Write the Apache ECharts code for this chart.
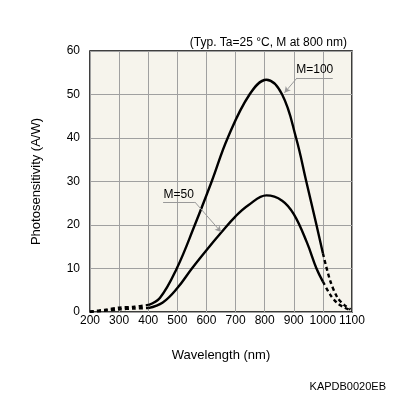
<!DOCTYPE html>
<html>
<head>
<meta charset="utf-8">
<script src="https://cdn.jsdelivr.net/npm/echarts@6/dist/echarts.min.js"></script>
<style>
  html, body { margin: 0; padding: 0; background: #fff; }
  #chart { width: 396px; height: 396px; }
</style>
</head>
<body>
<div id="chart"></div>
<script>
// wavelength (nm) / photosensitivity (A/W)
const uvWl = [200, 250, 300, 350, 400]
const m100Uv = [0.1, 0.5, 1.0, 1.2, 1.6]
const m50Uv = [0.0, 0.3, 0.6, 0.8, 0.9]

const m100Wl = [400, 440, 498, 560, 618, 673, 748, 806, 860, 908, 943, 978, 1000]
const m100Val = [1.6, 3.2, 10, 20, 30, 40, 50, 53.4, 50, 40, 30, 20, 13.5]

const m50Wl = [400, 450, 500, 550, 600, 650, 700, 745, 806, 860, 900, 945, 978, 1000]
const m50Val = [0.9, 2.2, 5.5, 10, 14.2, 18.2, 22, 24.6, 26.8, 25.6, 22.5, 16, 10, 7]

const irWl = [1000, 1025, 1050, 1075, 1095]
const m100Ir = [13.5, 7.2, 3.3, 1.5, 0.6]
const m50Ir = [7, 4, 2, 1, 0.4]

const xTicks = [200, 300, 400, 500, 600, 700, 800, 900, 1000, 1100]

const pairs = (xs, ys) => xs.map((x, i) => [x, ys[i]])

const chart = echarts.init(document.getElementById('chart'))
const font = 'Liberation Sans'

const solid = { color: '#000', width: 2.4, type: 'solid' }
const dashed = { color: '#000', width: 2.4, type: [4, 3] }

// leader line style for the curve labels
const leader = { color: '#999', width: 1, type: 'solid' }

const option = {
  animation: false,
  title: {
    text: '(Typ. Ta=25 °C, M at 800 nm)',
    right: 44,
    top: 32,
    textStyle: { fontFamily: font, fontSize: 12, fontWeight: 'normal', color: '#000' }
  },
  graphic: [{
    type: 'text',
    right: 10,
    top: 381,
    style: { text: 'KAPDB0020EB', fontFamily: font, fontSize: 11, fill: '#000' }
  }],
  grid: {
    left: 90, right: 44, top: 51, bottom: 84,
    show: true,
    backgroundColor: '#f6f4ec',
    borderColor: '#000',
    borderWidth: 1.5
  },
  xAxis: {
    type: 'value',
    min: 200, max: 1100, interval: 100,
    name: 'Wavelength (nm)',
    nameLocation: 'middle',
    nameGap: 37,
    nameTextStyle: { fontFamily: font, fontSize: 13, color: '#000' },
    axisLine: { show: false },
    axisTick: { show: false },
    axisLabel: {
      fontFamily: font, fontSize: 12, color: '#000', margin: 3,
      formatter: v => xTicks.includes(v) ? String(v) : ''
    },
    splitLine: { show: true, lineStyle: { color: '#a0a0a0', width: 1 } }
  },
  yAxis: {
    type: 'value',
    min: 0, max: 60, interval: 10,
    name: 'Photosensitivity (A/W)',
    nameLocation: 'middle',
    nameGap: 47,
    nameTextStyle: { fontFamily: font, fontSize: 13, color: '#000' },
    axisLine: { show: false },
    axisTick: { show: false },
    axisLabel: { fontFamily: font, fontSize: 12, color: '#000', margin: 10 },
    splitLine: { show: true, lineStyle: { color: '#a0a0a0', width: 1 } }
  },
  series: [
    {
      name: 'M=100', type: 'line', data: pairs(m100Wl, m100Val),
      smooth: 0.4, symbol: 'none', lineStyle: solid,
      markLine: {
        silent: true, symbol: ['none', 'arrow'], symbolSize: [5, 6],
        label: { show: false },
        data: [
          [{ coord: [911, 53.8], lineStyle: leader, symbol: 'none' }, { coord: [868, 50.4], symbol: 'arrow' }],
          [{ coord: [911, 53.8], lineStyle: leader }, { coord: [1034, 53.8], symbol: 'none' }]
        ],
        itemStyle: { color: '#000' }
      },
      markPoint: {
        silent: true, symbol: 'circle', symbolSize: 0,
        data: [{ coord: [972, 55.6] }],
        label: { show: true, formatter: 'M=100', fontFamily: font, fontSize: 12, color: '#000' }
      }
    },
    {
      name: 'M=50', type: 'line', data: pairs(m50Wl, m50Val),
      smooth: 0.4, symbol: 'none', lineStyle: solid,
      markLine: {
        silent: true, symbol: ['none', 'arrow'], symbolSize: [5, 6],
        label: { show: false },
        data: [
          [{ coord: [560, 25.3], lineStyle: leader }, { coord: [650, 18.4], symbol: 'arrow' }],
          [{ coord: [451, 25.3], lineStyle: leader }, { coord: [560, 25.3], symbol: 'none' }]
        ],
        itemStyle: { color: '#000' }
      },
      markPoint: {
        silent: true, symbol: 'circle', symbolSize: 0,
        data: [{ coord: [505, 27.0] }],
        label: { show: true, formatter: 'M=50', fontFamily: font, fontSize: 12, color: '#000' }
      }
    },
    { type: 'line', data: pairs(uvWl, m100Uv), smooth: 0.3, symbol: 'none', lineStyle: dashed },
    { type: 'line', data: pairs(uvWl, m50Uv), smooth: 0.3, symbol: 'none', lineStyle: dashed },
    { type: 'line', data: pairs(irWl, m100Ir), smooth: 0.3, symbol: 'none', lineStyle: dashed },
    { type: 'line', data: pairs(irWl, m50Ir), smooth: 0.3, symbol: 'none', lineStyle: dashed }
  ]
}

chart.setOption(option)
</script>
</body>
</html>
